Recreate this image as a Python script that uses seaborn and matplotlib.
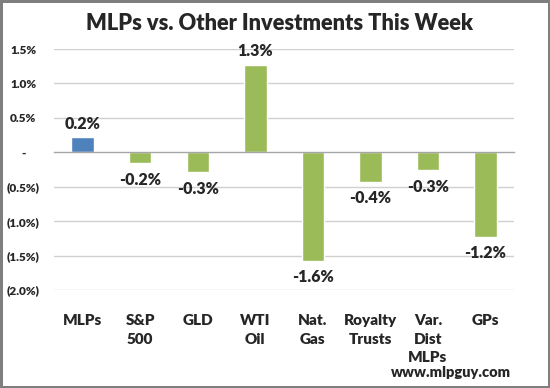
import matplotlib
matplotlib.use("Agg")
import matplotlib.pyplot as plt
import seaborn as sns
import numpy as np

# data (weekly return, %)
categories = ['MLPs', 'S&P\n500', 'GLD', 'WTI\nOil', 'Nat.\nGas', 'Royalty\nTrusts', 'Var.\nDist\nMLPs', 'GPs']
returns = [0.22, -0.16, -0.29, 1.27, -1.58, -0.43, -0.26, -1.23]
bar_colors = ['#4F81BD', '#9BBB59', '#9BBB59', '#9BBB59', '#9BBB59', '#9BBB59', '#9BBB59', '#9BBB59']
yticks = [1.5, 1.0, 0.5, 0.0, -0.5, -1.0, -1.5, -2.0]
ytick_labels = ['1.5%', '1.0%', '0.5%', '-', '(0.5%)', '(1.0%)', '(1.5%)', '(2.0%)']

sns.set_style('white')
plt.rcParams['font.family'] = ['Lato', 'DejaVu Sans']
W = 800  # heavy weight, closer to the Calibri Bold look

fig = plt.figure(figsize=(5.5, 3.88), dpi=100, edgecolor='#7f7f7f', linewidth=2.5)
ax = fig.add_axes([0.098, 0.2526, 0.837, 0.621])

sns.barplot(x=categories, y=returns, hue=categories, palette=bar_colors,
            legend=False, width=0.39, saturation=1, ax=ax)

ax.set_ylim(-2.0, 1.5)
ax.set_xlim(-0.5, len(categories) - 0.5)
ax.set_yticks(yticks)
ax.set_yticklabels(ytick_labels, fontsize=8.5, fontweight=W)
ax.tick_params(axis='y', length=0, pad=22)
for lab in ax.get_yticklabels():
    lab.set_horizontalalignment('center')

# gridlines
for t in yticks:
    if t != 0:
        ax.axhline(t, color='#d0d0d0', lw=1, zorder=0)

for s in ['left', 'right', 'top']:
    ax.spines[s].set_visible(False)
ax.spines['bottom'].set_position(('data', 0))
ax.spines['bottom'].set_color('#a6a6a6')
ax.spines['bottom'].set_linewidth(1)
ax.set_xticks(np.arange(len(categories)))
ax.set_xticklabels([''] * len(categories))
ax.set_xticks(np.arange(len(categories) + 1) - 0.5, minor=True)
ax.tick_params(axis='x', which='major', length=0)
ax.tick_params(axis='x', which='minor', length=4, direction='out', color='#a6a6a6', width=1)
ax.set_xlabel('')
ax.set_ylabel('')

# category labels below the plot
for i, c in enumerate(categories):
    ax.text(i, -0.1, c, transform=ax.get_xaxis_transform(), ha='center', va='top',
            fontsize=11, fontweight=W, linespacing=1.5)

# data labels
bars = ax.patches
for b, v in zip(bars, returns):
    x = b.get_x() + b.get_width() / 2
    if v >= 0:
        ax.annotate(f'{v:.1f}%', (x, v), xytext=(0, 4), textcoords='offset points',
                    ha='center', va='bottom', fontsize=11.5, fontweight=W)
    else:
        ax.annotate(f'{v:.1f}%', (x, v), xytext=(0, -6), textcoords='offset points',
                    ha='center', va='top', fontsize=11.5, fontweight=W)

fig.text(0.508, 0.94, 'MLPs vs. Other Investments This Week', ha='center', va='center',
         fontsize=15.7, fontweight=W)
fig.text(0.93, 0.04, 'www.mlpguy.com', ha='right', va='center', fontsize=10.5, fontweight=W)

fig.savefig('out.png', dpi=100)
